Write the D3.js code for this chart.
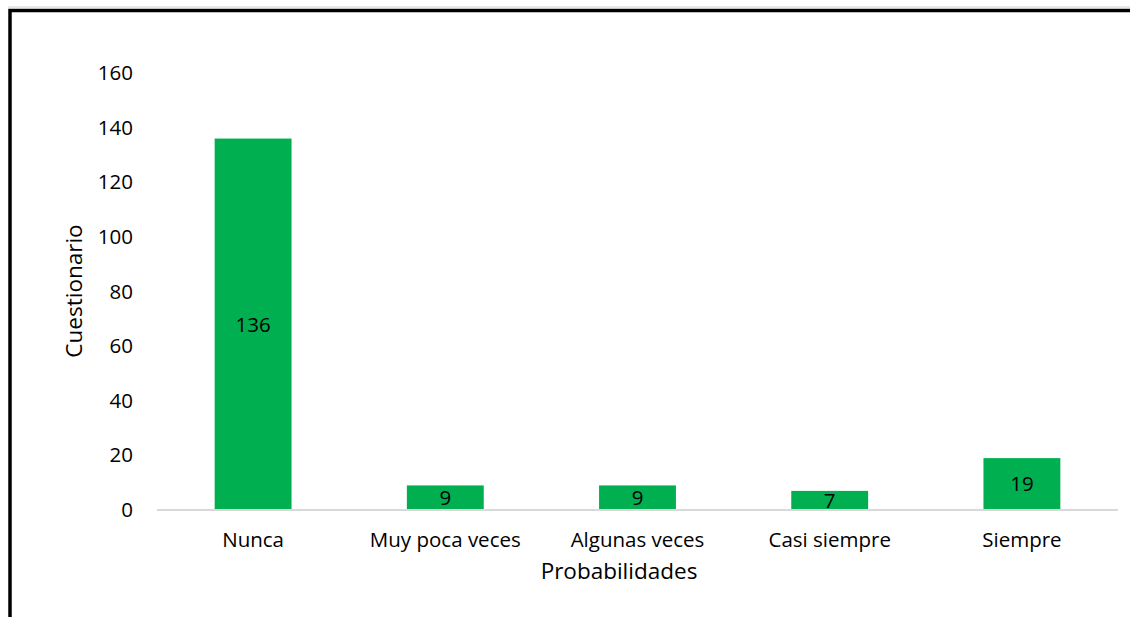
<!DOCTYPE html>
<html>
<head>
<meta charset="utf-8">
<script src="https://cdn.jsdelivr.net/npm/d3@7"></script>
<style>
  html, body { margin: 0; padding: 0; background: #fff; }
  svg { display: block; }
  text { font-family: "Open Sans", "Noto Sans", sans-serif; fill: #000; }
</style>
</head>
<body>
<svg id="chart" width="1130" height="617"></svg>
<script>
// Respuestas por categoría de frecuencia
const categories = ["Nunca", "Muy poca veces", "Algunas veces", "Casi siempre", "Siempre"];
const values = [136, 9, 9, 7, 19];
const yTicks = [0, 20, 40, 60, 80, 100, 120, 140, 160];

const svg = d3.select("#chart");
const labelSize = 20.5;

// Marco del gráfico (se prolonga más allá del borde derecho e inferior)
svg.append("line").attr("x1", 8).attr("x2", 1130).attr("y1", 7).attr("y2", 7)
  .attr("stroke", "#cfcfcf").attr("stroke-width", 1);
svg.append("rect")
  .attr("x", 10).attr("y", 10.5).attr("width", 1140).attr("height", 640)
  .attr("fill", "none").attr("stroke", "#000").attr("stroke-width", 3.5);

const plot = { left: 157, right: 1118, top: 73, bottom: 510 };

const x = d3.scaleBand()
  .domain(categories)
  .range([plot.left, plot.right])
  .paddingInner(0.6)
  .paddingOuter(0.3);

const y = d3.scaleLinear()
  .domain([0, 160])
  .range([plot.bottom, plot.top]);

// Barras
svg.append("g").selectAll("rect")
  .data(values)
  .join("rect")
  .attr("x", (d, i) => x(categories[i]))
  .attr("y", d => y(d))
  .attr("width", x.bandwidth())
  .attr("height", d => y(0) - y(d))
  .attr("fill", "#00B050");

// Etiquetas de valor en el centro de cada barra
svg.append("g").selectAll("text")
  .data(values)
  .join("text")
  .attr("x", (d, i) => x(categories[i]) + x.bandwidth() / 2)
  .attr("y", d => (y(d) + y(0)) / 2)
  .attr("dy", "0.36em")
  .attr("text-anchor", "middle")
  .attr("font-size", labelSize)
  .text(d => d);

// Eje X
const xAxis = svg.append("g")
  .attr("transform", `translate(0,${plot.bottom})`)
  .call(d3.axisBottom(x).tickSize(0).tickPadding(22).tickSizeOuter(0));
xAxis.select(".domain").attr("stroke", "#d9d9d9").attr("stroke-width", 2)
  .attr("d", `M${plot.left},0H${plot.right}`);
xAxis.selectAll("text").attr("font-size", labelSize).attr("font-family", "'Open Sans', sans-serif").attr("fill", "#000");

// Eje Y (solo etiquetas)
const yAxis = svg.append("g")
  .attr("transform", `translate(${plot.left},0)`)
  .call(d3.axisLeft(y).tickValues(yTicks).tickSize(0).tickPadding(24));
yAxis.select(".domain").remove();
yAxis.selectAll("text").attr("font-size", labelSize).attr("font-family", "'Open Sans', sans-serif").attr("fill", "#000");

// Títulos de ejes
svg.append("text")
  .attr("x", 619).attr("y", 571).attr("dy", "0.36em")
  .attr("text-anchor", "middle").attr("font-size", 22.5)
  .text("Probabilidades");

svg.append("text")
  .attr("transform", "translate(74,291) rotate(-90)")
  .attr("dy", "0.36em")
  .attr("text-anchor", "middle").attr("font-size", 22.5)
  .text("Cuestionario");
</script>
</body>
</html>
